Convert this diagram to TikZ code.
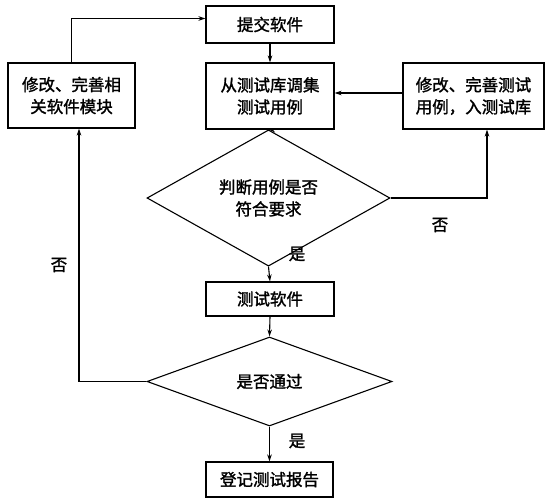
\documentclass[tikz,border=0pt]{standalone}
\usepackage{fontspec}
\newfontfamily\cjk[FakeBold=1.6]{Noto Sans CJK SC}
\usetikzlibrary{shapes.geometric,arrows.meta}
\begin{document}
\begin{tikzpicture}[x=1pt,y=-1pt,
  every node/.style={font=\cjk\fontsize{16.5}{22}\selectfont},
  procbox/.style={draw,line width=1.1pt,align=center,inner sep=0pt},
  decbox/.style={draw,line width=1.1pt,shape=diamond,align=center,inner sep=0pt},
  lbl/.style={inner sep=0pt},
  flow/.style={line width=1.1pt,-{Stealth[length=7pt,width=4.5pt]}},
  plainline/.style={line width=1.1pt}]
\useasboundingbox (0,0) rectangle (550,501);
\node[procbox,minimum width=128pt,minimum height=37pt] (submit) at (270,24.5) {提交软件};
\node[procbox,minimum width=127pt,minimum height=65pt] (left) at (71.5,95.5) {修改、完善相\\关软件模块};
\node[procbox,minimum width=128pt,minimum height=66pt] (fetch) at (270,96) {从测试库调集\\测试用例};
\node[procbox,minimum width=141pt,minimum height=66pt] (right) at (473.5,96) {修改、完善测试\\用例，入测试库};
\node[decbox,minimum width=243pt,minimum height=90pt] (decide) at (268.5,198) {判断用例是否\\符合要求};
\node[procbox,minimum width=128pt,minimum height=34pt] (test) at (270,299) {测试软件};
\node[decbox,minimum width=245pt,minimum height=89pt] (pass) at (269.5,381.5) {是否通过};
\node[procbox,minimum width=127pt,minimum height=35pt] (report) at (269.5,479.5) {登记测试报告};
\node[lbl] (no1) at (440,225) {否};
\node[lbl] (no2) at (59,265) {否};
\node[lbl] (yes1) at (297,254) {是};
\node[lbl] (yes2) at (297,441) {是};
\draw[flow] (left.north) |- ([yshift=6pt]submit.west);
\draw[flow] (submit.south) -- (fetch.north);
\draw[flow] ([yshift=3pt]right.west) -- ([yshift=3pt]fetch.east);
\draw[flow] (fetch.south) -- (decide.north);
\draw[flow] (decide.east) -| ([xshift=13.5pt]right.south);
\draw[flow] (decide.south) -- (test.north);
\draw[flow] (test.south) -- (pass.north);
\draw[flow] (pass.west) -| ([xshift=7.5pt]left.south);
\draw[flow] (pass.south) -- (report.north);
\end{tikzpicture}
\end{document}
